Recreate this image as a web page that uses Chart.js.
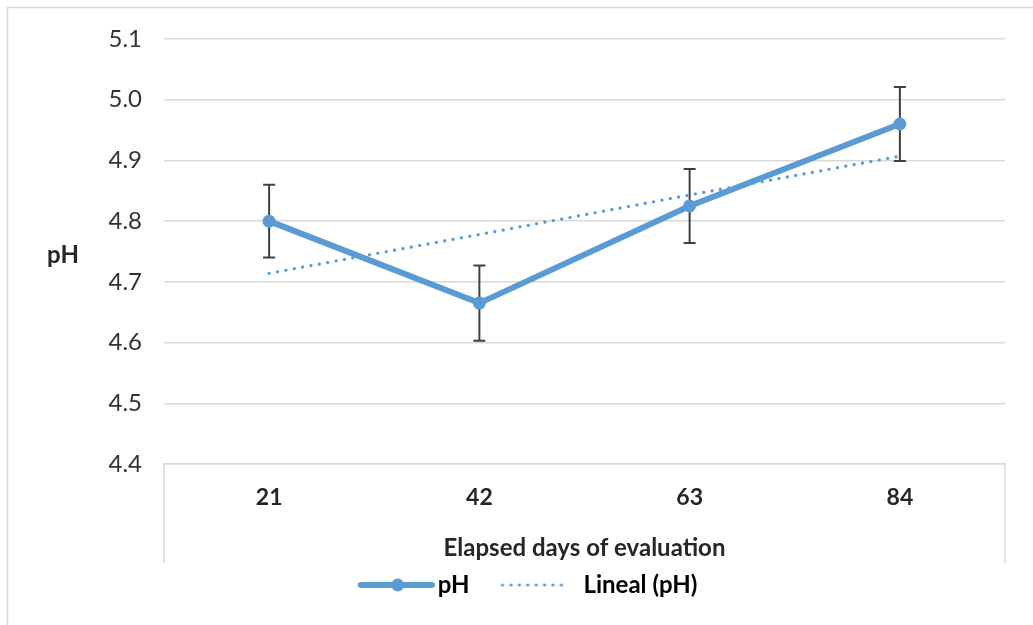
<!DOCTYPE html>
<html>
<head>
<meta charset="utf-8">
<title>pH by elapsed days</title>
<script src="https://cdn.jsdelivr.net/npm/chart.js@4.4.1/dist/chart.umd.min.js"></script>
<style>
  html, body { margin: 0; padding: 0; background: #fff; }
  canvas { display: block; }
</style>
</head>
<body>
<canvas id="phChart" width="1033" height="625"></canvas>
<script>
// values
const days = ['21', '42', '63', '84'];
const phMean = [4.80, 4.665, 4.825, 4.96];
const phError = [0.06, 0.062, 0.061, 0.061];
const linealPh = [4.714, 4.778, 4.843, 4.907];
const yTicks = [4.4, 4.5, 4.6, 4.7, 4.8, 4.9, 5.0, 5.1];

const BLUE = '#5B9BD5';
const GRID = '#d9d9d9';

// legend samples (line with marker, dotted line)
function makeIcon(w, draw) {
    const c = document.createElement('canvas');
    c.width = w; c.height = 24;
    draw(c.getContext('2d'));
    return c;
}
const phIcon = makeIcon(110, g => {
    g.strokeStyle = BLUE; g.lineWidth = 6; g.lineCap = 'round';
    g.beginPath(); g.moveTo(36, 12); g.lineTo(107, 12); g.stroke();
    g.fillStyle = BLUE;
    g.beginPath(); g.arc(73, 12, 6.5, 0, Math.PI * 2); g.fill();
});
const trendIcon = makeIcon(90, g => {
    g.fillStyle = BLUE;
    for (let x = 22; x <= 89; x += 8.4) {
        g.beginPath(); g.arc(x, 12, 1.6, 0, Math.PI * 2); g.fill();
    }
});

// frame, x-axis box, horizontal "pH" title and error bars
const decor = {
    id: 'decor',
    beforeDraw(chart) {
        const ctx = chart.ctx;
        ctx.save();
        ctx.fillStyle = '#fff';
        ctx.fillRect(0, 0, chart.width, chart.height);
        ctx.strokeStyle = GRID;
        ctx.lineWidth = 1.5;
        ctx.beginPath();
        ctx.moveTo(7.5, chart.height); ctx.lineTo(7.5, 7.5); ctx.lineTo(chart.width, 7.5);
        ctx.stroke();
        ctx.restore();
    },
    beforeDatasetsDraw(chart) {
        const ctx = chart.ctx;
        const x = chart.scales.x, y = chart.scales.y;
        const area = chart.chartArea;
        ctx.save();
        ctx.strokeStyle = GRID;
        ctx.lineWidth = 1.5;
        ctx.beginPath();
        ctx.moveTo(area.left, area.bottom); ctx.lineTo(area.left, x.bottom);
        ctx.moveTo(area.right, area.bottom); ctx.lineTo(area.right, x.bottom);
        ctx.stroke();

        ctx.fillStyle = '#262626';
        ctx.font = 'bold 24px Lato';
        ctx.textAlign = 'center';
        ctx.textBaseline = 'middle';
        ctx.fillText('pH', 63, (area.top + area.bottom) / 2 + 4);

        ctx.strokeStyle = '#404040';
        ctx.lineWidth = 2;
        phMean.forEach((v, i) => {
            const px = x.getPixelForValue(i);
            const top = y.getPixelForValue(v + phError[i]);
            const bot = y.getPixelForValue(v - phError[i]);
            ctx.beginPath();
            ctx.moveTo(px, top); ctx.lineTo(px, bot);
            ctx.moveTo(px - 6, top); ctx.lineTo(px + 6, top);
            ctx.moveTo(px - 6, bot); ctx.lineTo(px + 6, bot);
            ctx.stroke();
        });
        ctx.restore();
    }
};

new Chart(document.getElementById('phChart'), {
    type: 'line',
    data: {
        labels: days,
        datasets: [{
            label: 'pH',
            data: phMean,
            borderColor: BLUE,
            backgroundColor: BLUE,
            borderWidth: 6,
            pointRadius: 6.5,
            pointBorderWidth: 0,
            pointBackgroundColor: BLUE,
            tension: 0,
            order: 1
        }, {
            label: 'Lineal (pH)',
            data: linealPh,
            borderColor: BLUE,
            borderWidth: 3.2,
            borderDash: [0.1, 8.4],
            borderCapStyle: 'round',
            pointRadius: 0,
            tension: 0,
            order: 0
        }]
    },
    options: {
        responsive: false,
        animation: false,
        devicePixelRatio: 1,
        layout: { padding: { top: 39, right: 28, bottom: 18, left: 26 } },
        plugins: {
            tooltip: { enabled: false },
            legend: {
                position: 'bottom',
                labels: {
                    usePointStyle: true,
                    pointStyleWidth: 92,
                    padding: 10,
                    color: '#262626',
                    font: { family: 'Lato', size: 24, weight: 'bold' },
                    generateLabels: () => [
                        { text: 'pH', pointStyle: phIcon, fillStyle: BLUE, strokeStyle: BLUE, lineWidth: 0, hidden: false, datasetIndex: 0 },
                        { text: 'Lineal (pH)', pointStyle: trendIcon, fillStyle: BLUE, strokeStyle: BLUE, lineWidth: 0, hidden: false, datasetIndex: 1 }
                    ]
                }
            }
        },
        scales: {
            x: {
                offset: true,
                grid: { display: false, drawTicks: false },
                border: { display: true, color: GRID, width: 1.5 },
                ticks: { padding: 20, color: '#262626', font: { family: 'Lato', size: 23, weight: 'bold' } },
                title: {
                    display: true,
                    text: 'Elapsed days of evaluation',
                    color: '#262626',
                    font: { family: 'Lato', size: 24, weight: 'bold' },
                    padding: { top: 0, bottom: 0 }
                },
                afterFit: s => { s.height = 99; }
            },
            y: {
                min: 4.4,
                max: 5.1,
                afterBuildTicks: s => { s.ticks = yTicks.map(v => ({ value: v })); },
                grid: { color: GRID, lineWidth: 1.5, drawTicks: false },
                border: { display: false },
                ticks: {
                    padding: 22,
                    color: '#333',
                    font: { family: 'Lato', size: 24 },
                    callback: v => v.toFixed(1)
                },
                afterFit: s => { s.width = 138; }
            }
        }
    },
    plugins: [decor]
});
</script>
</body>
</html>
